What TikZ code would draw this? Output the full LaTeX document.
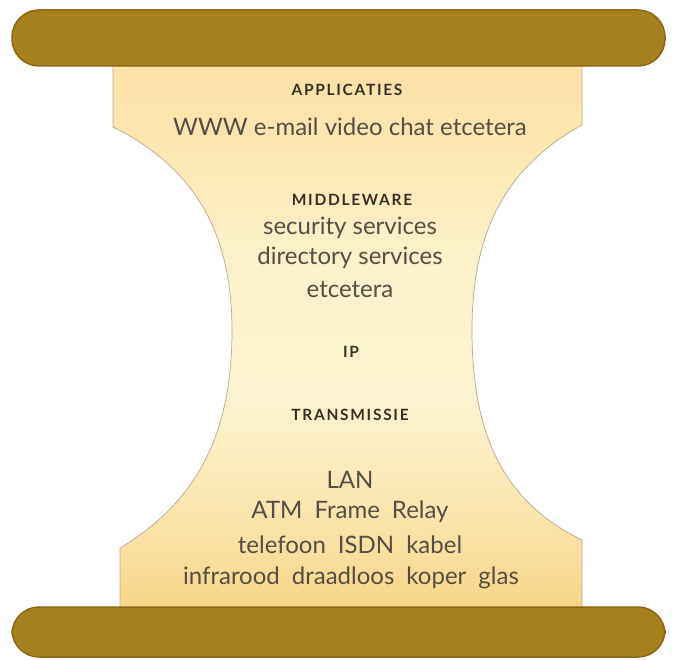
\documentclass[tikz,border=0pt]{standalone}
\usepackage{fontspec}
\setmainfont{Lato}
\newfontfamily\headfam[LetterSpace=11]{Lato}
\definecolor{barcol}{RGB}{166,127,30}
\definecolor{bardark}{RGB}{140,104,22}
\definecolor{cA}{RGB}{248,212,136}
\definecolor{cB}{RGB}{250,226,166}
\definecolor{cC}{RGB}{251,243,207}
\definecolor{cD}{RGB}{251,242,204}
\definecolor{cE}{RGB}{252,231,178}
\definecolor{cF}{RGB}{252,224,166}
\definecolor{edgecol}{RGB}{185,170,140}
\definecolor{inkcol}{RGB}{55,48,38}
\definecolor{bodycol}{RGB}{85,78,68}
\pgfdeclareverticalshading{creamshade}{100bp}{color(0bp)=(cA); color(25bp)=(cA); color(32bp)=(cB); color(44bp)=(cC); color(56bp)=(cD); color(67bp)=(cE); color(75bp)=(cF); color(100bp)=(cF)}
\begin{document}
\begin{tikzpicture}[x=1pt,y=-1pt,
  bar/.style={fill=barcol, draw=bardark, line width=1.5pt, rounded corners=27pt},
  head/.style={font=\headfam\bfseries\fontsize{15.5}{18}\selectfont, text=inkcol, inner sep=0pt},
  body/.style={font=\fontsize{24}{28}\selectfont, text=bodycol, inner sep=0pt}]
\useasboundingbox (0,0) rectangle (675,660);
\fill[white] (0,0) rectangle (675,660);
% cream hourglass body
\path[draw=edgecol, line width=0.7pt, shading=creamshade]
  (113,60) -- (113,127)
  .. controls (200,170) and (232,240) .. (232,330)
  .. controls (232,430) and (200,500) .. (120,548)
  -- (120,612) -- (582,612) -- (582,540)
  .. controls (500,500) and (472,430) .. (472,330)
  .. controls (472,240) and (500,170) .. (582,125)
  -- (582,60) -- cycle;
% bars
\path[bar] (12,10) rectangle (665,66);
\path[bar] (12,607) rectangle (665,657);
% texts
\node[head] (app) at (347,90) {APPLICATIES};
\node[body] (appl) at (350,127) {WWW e-mail video chat etcetera};
\node[head] (mid) at (352,200) {MIDDLEWARE};
\node[body] (sec) at (350,228) {security services};
\node[body] (dir) at (350,258) {directory services};
\node[body] (etc) at (350,290) {etcetera};
\node[head] (ip) at (351,352) {IP};
\node[head] (tra) at (350,415) {TRANSMISSIE};
\node[body] (lan) at (350,480) {LAN};
\node[body] (atm) at (350,512) {ATM\hspace{0.5em}Frame\hspace{0.5em}Relay};
\node[body] (tel) at (350,545) {telefoon\hspace{0.5em}ISDN\hspace{0.5em}kabel};
\node[body] (inf) at (351,578) {infrarood\hspace{0.5em}draadloos\hspace{0.5em}koper\hspace{0.5em}glas};
\end{tikzpicture}
\end{document}
